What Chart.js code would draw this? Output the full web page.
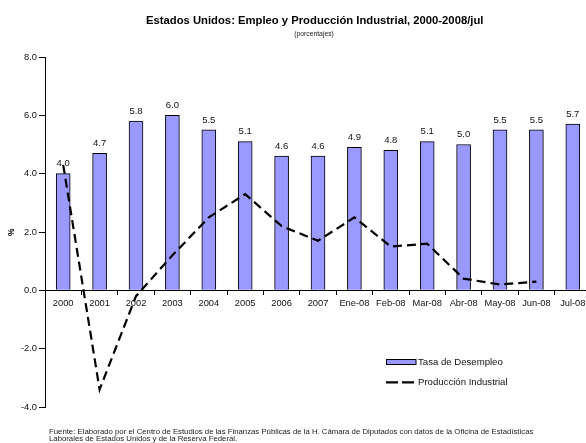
<!DOCTYPE html>
<html><head><meta charset="utf-8">
<script src="https://cdn.jsdelivr.net/npm/chart.js@4.4.0/dist/chart.umd.min.js"></script>
<style>
html,body{margin:0;padding:0;overflow:hidden;background:#fff;width:586px;height:443px}
#wrap{position:absolute;left:0;top:0;width:600px;height:443px}
canvas{display:block}
</style>
</head><body><div id="wrap"><canvas id="c" width="600" height="443"></canvas></div>
<script>
const categories = ['2000','2001','2002','2003','2004','2005','2006','2007','Ene-08','Feb-08','Mar-08','Abr-08','May-08','Jun-08','Jul-08'];
const tasaDesempleo = [4.0,4.7,5.8,6.0,5.5,5.1,4.6,4.6,4.9,4.8,5.1,5.0,5.5,5.5,5.7];
const produccionIndustrial = [4.3,-3.4,-0.2,1.2,2.5,3.3,2.2,1.7,2.5,1.5,1.6,0.4,0.2,0.3,null];
const yTicks = [-4,-2,0,2,4,6,8];
const titleText = 'Estados Unidos: Empleo y Producción Industrial, 2000-2008/jul';
const subtitleText = '(porcentajes)';
const yAxisTitle = '%';
const footLines = ['Fuente: Elaborado por el Centro de Estudios de las Finanzas Públicas de la H. Cámara de Diputados con datos de la Oficina de Estadísticas',
                   'Laborales de Estados Unidos y de la Reserva Federal.'];

const FF = "'Liberation Sans', Arial, sans-serif";

function fitFont(ctx, text, weight, targetW) {
  ctx.font = weight + ' 10px ' + FF;
  const w = ctx.measureText(text).width;
  return 10 * targetW / w;
}

const overlay = {
  id: 'overlay',
  afterDatasetsDraw(chart) {
    const ctx = chart.ctx;
    ctx.save();
    // data labels
    const meta = chart.getDatasetMeta(0);
    ctx.fillStyle = '#111';
    ctx.font = '9.5px ' + FF;
    ctx.textAlign = 'center';
    ctx.textBaseline = 'middle';
    meta.data.forEach((el, i) => {
      ctx.fillText(tasaDesempleo[i].toFixed(1), el.x, el.y - 10);
    });
    // title
    ctx.fillStyle = '#000';
    ctx.textAlign = 'left';
    let fs = fitFont(ctx, titleText, 'bold', 338);
    ctx.font = 'bold ' + fs + 'px ' + FF;
    ctx.fillText(titleText, 146, 20.7);
    ctx.font = '6.8px ' + FF;
    ctx.textAlign = 'center';
    ctx.fillStyle = '#222';
    ctx.fillText(subtitleText, 314, 34.3);
    // y axis title
    ctx.save();
    ctx.translate(11.7, 232.3);
    ctx.rotate(-Math.PI / 2);
    ctx.font = 'bold 8.5px ' + FF;
    ctx.fillStyle = '#000';
    ctx.fillText(yAxisTitle, 0, 0);
    ctx.restore();
    // legend
    const ds0 = chart.data.datasets[0], ds1 = chart.data.datasets[1];
    ctx.fillStyle = ds0.backgroundColor;
    ctx.fillRect(386, 359.5, 30, 5);
    ctx.strokeStyle = '#000';
    ctx.lineWidth = 1;
    ctx.strokeRect(386.5, 359.5, 29.5, 5);
    ctx.beginPath();
    ctx.setLineDash([12, 4]);
    ctx.lineWidth = ds1.borderWidth;
    ctx.strokeStyle = ds1.borderColor;
    ctx.moveTo(386, 382.3);
    ctx.lineTo(416, 382.3);
    ctx.stroke();
    ctx.setLineDash([]);
    ctx.fillStyle = '#111';
    ctx.textAlign = 'left';
    ctx.font = '9.6px ' + FF;
    ctx.fillText(ds0.label, 418, 362.3);
    ctx.fillText(ds1.label, 418, 382.3);
    // footnote
    let ff = fitFont(ctx, footLines[0], '', 485);
    ctx.font = ff + 'px ' + FF;
    ctx.fillStyle = '#222';
    ctx.fillText(footLines[0], 49, 431.5);
    ctx.fillText(footLines[1], 49, 439.3);
    ctx.restore();
  }
};

new Chart(document.getElementById('c').getContext('2d'), {
  data: {
    labels: categories,
    datasets: [
      { type: 'bar', label: 'Tasa de Desempleo', data: tasaDesempleo,
        backgroundColor: '#9999FF', borderColor: '#000', borderWidth: 1,
        barThickness: 14, order: 2 },
      { type: 'line', label: 'Producción Industrial', data: produccionIndustrial,
        borderColor: '#000', borderWidth: 2.2, borderDash: [9, 5],
        pointRadius: 0, fill: false, tension: 0, spanGaps: false, order: 1 }
    ]
  },
  options: {
    responsive: false, animation: false, devicePixelRatio: 1,
    layout: { padding: { top: 57, bottom: 36, left: 0, right: 9 } },
    plugins: { legend: { display: false }, title: { display: false }, tooltip: { enabled: false } },
    scales: {
      x: {
        position: { y: 0 }, offset: true,
        grid: { display: true, offset: true, drawOnChartArea: false, drawTicks: true, tickLength: 4, color: '#000' },
        border: { color: '#000', width: 1 },
        ticks: { font: { family: FF, size: 9.3 }, color: '#111', padding: 4, maxRotation: 0, autoSkip: false },
        afterFit(s) { s.height = 0; }
      },
      y: {
        min: -4, max: 8,
        afterBuildTicks(s) { s.ticks = yTicks.map(v => ({ value: v })); },
        ticks: { callback: v => Number(v).toFixed(1), font: { family: FF, size: 9.3 }, color: '#111', padding: 2 },
        grid: { drawOnChartArea: false, drawTicks: true, tickLength: 6, color: '#000' },
        border: { color: '#000', width: 1 },
        afterFit(s) { s.width = 45; }
      }
    }
  },
  plugins: [overlay]
});
</script>
</body></html>
